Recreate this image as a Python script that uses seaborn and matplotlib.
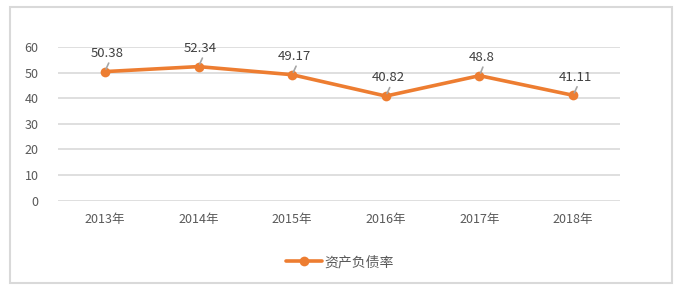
import matplotlib
matplotlib.use("Agg")
import matplotlib.pyplot as plt
import seaborn as sns
import pandas as pd
from matplotlib.patches import Rectangle

years = ["2013年", "2014年", "2015年", "2016年", "2017年", "2018年"]
ratio = [50.38, 52.34, 49.17, 40.82, 48.8, 41.11]
label_texts = ["50.38", "52.34", "49.17", "40.82", "48.8", "41.11"]
series_name = "资产负债率"
yticks = [0, 10, 20, 30, 40, 50, 60]

sns.set_theme(style="white")
plt.rcParams['font.family'] = ['Noto Sans CJK SC', 'DejaVu Sans']

df = pd.DataFrame({"year": years, "value": ratio})

fig = plt.figure(figsize=(6.89, 2.89), dpi=100)
ax = fig.add_axes([58/689, 1-200.5/289, 562/689, 153.5/289])

orange = "#ED7D31"
sns.lineplot(data=df, x="year", y="value", ax=ax, sort=False, color=orange,
             linewidth=2.6, marker="o", markersize=7, markeredgewidth=0,
             label=series_name, legend=False, zorder=3)

ax.set_xlim(-0.5, 5.5)
ax.set_ylim(0, 60)
ax.set_yticks(yticks)
ax.set_yticklabels([str(t) for t in yticks])
ax.grid(axis="y", color="#D9D9D9", linewidth=1.2)
ax.set_axisbelow(True)
for s in ax.spines.values():
    s.set_visible(False)
ax.set_xlabel("")
ax.set_ylabel("")
ax.tick_params(axis="both", length=0, labelsize=9, colors="#595959")
ax.tick_params(axis="x", pad=9)
ax.tick_params(axis="y", pad=14)

for i, (v, t) in enumerate(zip(ratio, label_texts)):
    ax.annotate(t, xy=(i, v), xytext=(1.5, 8.5), textcoords="offset points",
                ha="center", va="bottom", fontsize=9.5, color="#404040",
                zorder=4,
                arrowprops=dict(arrowstyle="-", color="#A5A5A5", lw=1.2,
                                shrinkA=0, shrinkB=2,
                                relpos=(0.6, 0.0)))

handles, labels = ax.get_legend_handles_labels()
leg = fig.legend(handles, labels, loc="center", bbox_to_anchor=(0.493, 1-262/289),
                 frameon=False, fontsize=10, handlelength=2.6, handletextpad=0.2,
                 labelcolor="#595959")

fig.patches.append(Rectangle((10/689, 1-283/289), 662/689, 276/289,
                             transform=fig.transFigure, fill=False,
                             edgecolor="#D9D9D9", linewidth=1.5))

fig.savefig("out.png", dpi=100)
